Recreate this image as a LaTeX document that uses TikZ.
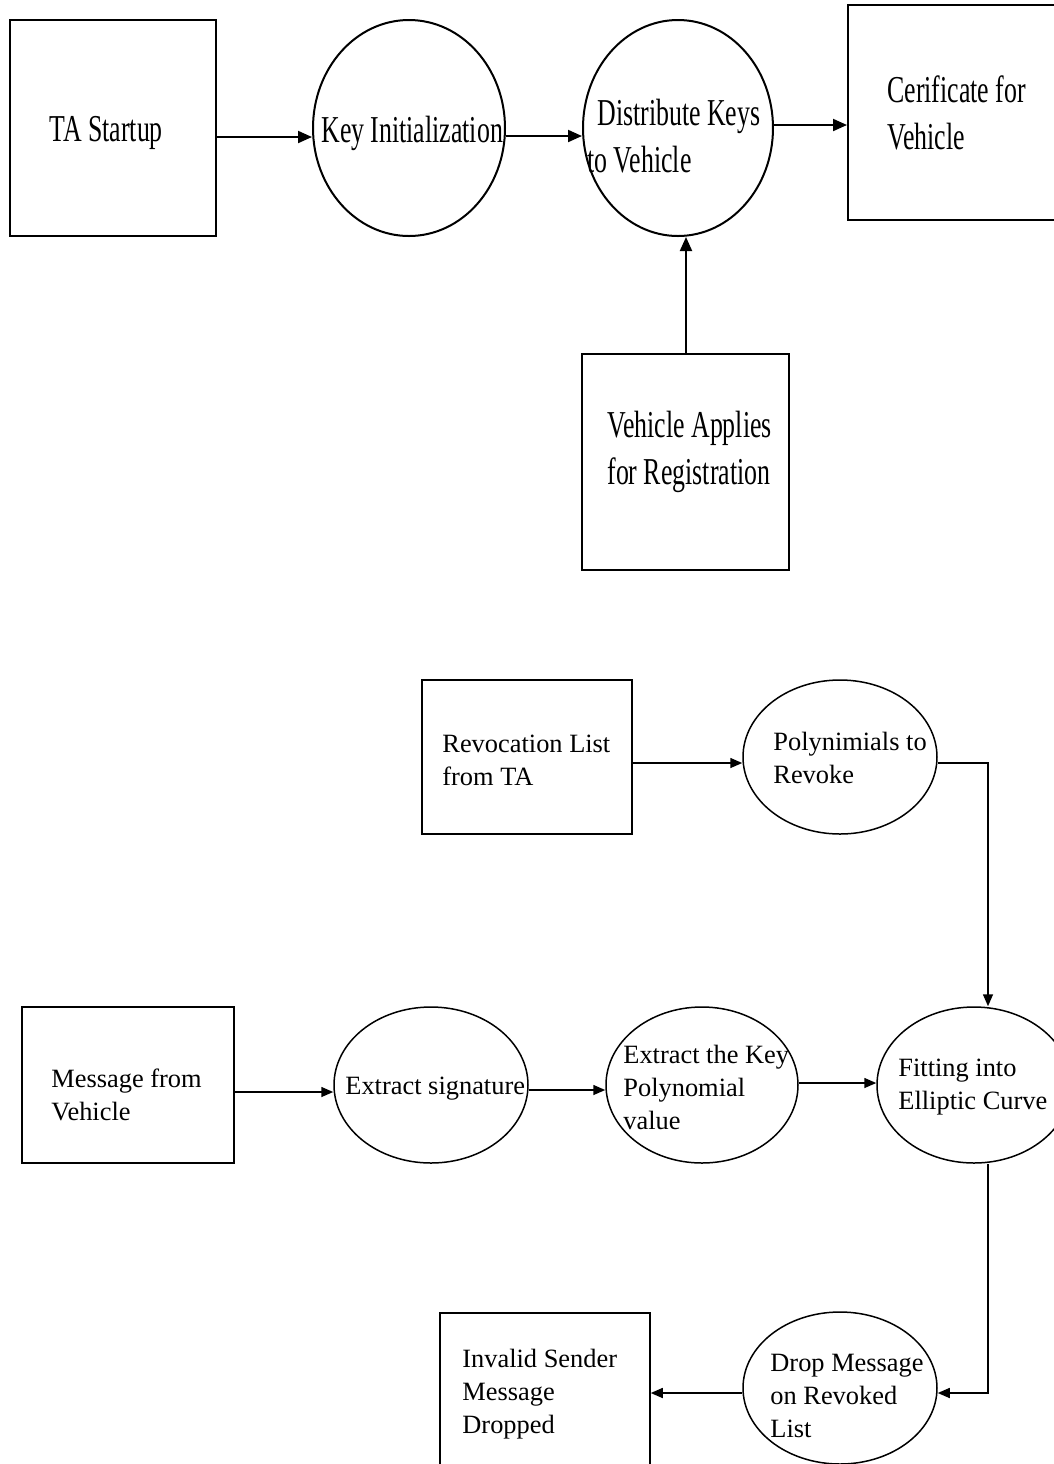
\documentclass[tikz,border=0pt]{standalone}
\usepackage{fontspec}
\setmainfont{Liberation Serif}
\newfontfamily\condfont[FakeStretch=0.68]{Liberation Serif}
\usetikzlibrary{shapes.geometric,arrows.meta}

\tikzset{
  topbox/.style={draw, rectangle, line width=1pt, inner sep=0pt},
  topell/.style={draw, ellipse, line width=1pt, inner sep=0pt},
  botbox/.style={draw, rectangle, line width=0.75pt, inner sep=0pt},
  botell/.style={draw, ellipse, line width=0.75pt, inner sep=0pt},
  toptext/.style={anchor=base west, inner sep=0pt, text width=120pt, align=flush left,
    font=\condfont\fontsize{19pt}{23.5pt}\selectfont},
  bottext/.style={anchor=base west, inner sep=0pt, text width=120pt, align=flush left,
    font=\fontsize{13.2pt}{16.7pt}\selectfont},
  toparr/.style={line width=1pt, -{Triangle[length=7pt,width=6pt]}},
  botarr/.style={line width=0.75pt, -{Triangle[length=6pt,width=5pt]}},
}

\begin{document}
\begin{tikzpicture}[x=0.5pt, y=-0.5pt]
  \useasboundingbox (0,0) rectangle (1054,1464);
  \fill[white] (0,0) rectangle (1054,1464);
  \clip (0,0) rectangle (1054,1464);

  % ---- key distribution ----
  \node[topbox, minimum width=103pt, minimum height=108pt] (ta) at (113,128) {};
  \node[topell, minimum width=96pt, minimum height=108pt] (keyinit) at (409,128) {};
  \node[topell, minimum width=95pt, minimum height=108pt] (dist) at (678,128) {};
  \node[topbox, minimum width=106pt, minimum height=107.5pt] (cert) at (954,112.5) {};
  \node[topbox, minimum width=103.5pt, minimum height=108pt] (apply) at (685.5,462) {};

  \node[toptext] (ta-t) at (49,141) {TA Startup};
  \node[toptext] (keyinit-t) at (321,142) {Key Initialization};
  \node[toptext] (dist-t) at (587,125) {\hspace*{5pt}Distribute Keys\\to Vehicle};
  \node[toptext] (cert-t) at (887,102) {Cerificate for\\Vehicle};
  \node[toptext] (apply-t) at (607,437) {Vehicle Applies\\for Registration};

  \draw[toparr] (ta.east |- 0,137) -- (keyinit.west |- 0,137);
  \draw[toparr] (keyinit.east |- 0,136) -- (dist.west |- 0,136);
  \draw[toparr] (dist.east |- 0,125) -- (cert.west |- 0,125);
  \draw[toparr] (apply.north -| 686,0) -- (dist.south -| 686,0);

  % ---- revocation check ----
  \node[botbox, minimum width=105pt, minimum height=77pt] (rev) at (527,757) {};
  \node[botell, minimum width=97pt, minimum height=77pt] (poly) at (840,757) {};
  \node[botbox, minimum width=106pt, minimum height=78pt] (msg) at (128,1085) {};
  \node[botell, minimum width=97pt, minimum height=78pt] (xsig) at (431,1085) {};
  \node[botell, minimum width=96pt, minimum height=78pt] (xkey) at (702,1085) {};
  \node[botell, minimum width=97pt, minimum height=78pt] (fit) at (974,1085) {};
  \node[botell, minimum width=97pt, minimum height=76pt] (drop) at (840,1388) {};
  \node[botbox, minimum width=105pt, minimum height=90pt] (inval) at (545,1403) {};

  \node[bottext] (rev-t) at (442,752) {Revocation List\\from TA};
  \node[bottext] (poly-t) at (773,750) {Polynimials to\\Revoke};
  \node[bottext] (msg-t) at (51,1087) {Message from\\Vehicle};
  \node[bottext] (xsig-t) at (345,1094) {Extract signature};
  \node[bottext] (xkey-t) at (623,1063) {Extract the Key\\Polynomial\\value};
  \node[bottext] (fit-t) at (898,1076) {Fitting into\\Elliptic Curve};
  \node[bottext] (drop-t) at (770,1371) {Drop Message\\on Revoked\\List};
  \node[bottext] (inval-t) at (462,1367) {Invalid Sender\\Message\\Dropped};

  \draw[botarr] (rev.east |- 0,763) -- (poly.west |- 0,763);
  \draw[botarr] (poly.east |- 0,763) -| (fit.north -| 988,0);
  \draw[botarr] (msg.east |- 0,1092) -- (xsig.west |- 0,1092);
  \draw[botarr] (xsig.east |- 0,1090) -- (xkey.west |- 0,1090);
  \draw[botarr] (xkey.east |- 0,1083) -- (fit.west |- 0,1083);
  \draw[botarr] (fit.south -| 988,0) |- (drop.east |- 0,1393);
  \draw[botarr] (drop.west |- 0,1393) -- (inval.east |- 0,1393);
\end{tikzpicture}
\end{document}
